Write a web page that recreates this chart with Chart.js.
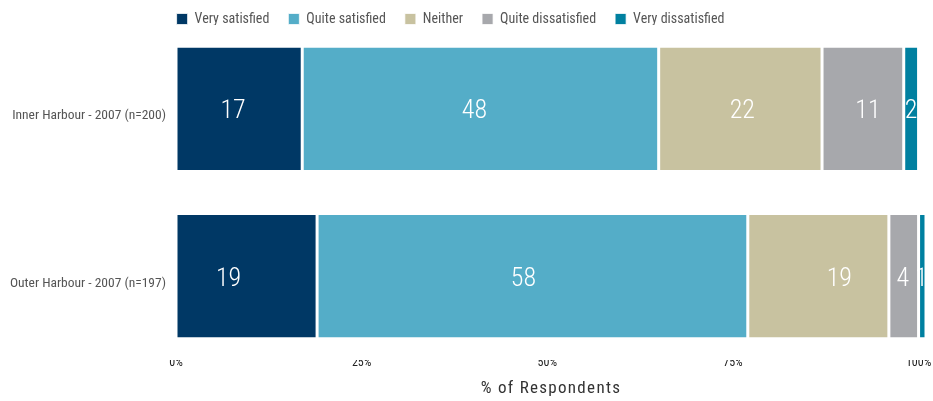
<!DOCTYPE html>
<html>
<head>
<meta charset="utf-8">
<script src="https://cdn.jsdelivr.net/npm/chart.js@4/dist/chart.umd.min.js"></script>
<style>
  html, body { margin: 0; padding: 0; background: #fff; }
  #wrap { width: 933px; height: 401px; }
</style>
</head>
<body>
<div id="wrap"><canvas id="satChart"></canvas></div>
<script>
const FONT = '"Roboto Condensed", "Roboto", sans-serif';

const groups = ['Inner Harbour - 2007 (n=200)', 'Outer Harbour - 2007 (n=197)'];
const levels = ['Very satisfied', 'Quite satisfied', 'Neither', 'Quite dissatisfied', 'Very dissatisfied'];
const verySatisfied = [17, 19];
const quiteSatisfied = [48, 58];
const neither = [22, 19];
const quiteDissatisfied = [11, 4];
const veryDissatisfied = [2, 1];
const xTicks = [0, 25, 50, 75, 100];

const colors = ['#003865', '#54adc8', '#c8c2a0', '#a7a8ac', '#0080a0'];
const series = [verySatisfied, quiteSatisfied, neither, quiteDissatisfied, veryDissatisfied];
// hand-tuned horizontal nudges (px) for the numbers, per level and group
const labelNudge = [[-6, -18], [-6, -9], [2, 21], [5, -1], [0, -1]];

// white numbers inside every segment
const valueLabels = {
  id: 'valueLabels',
  afterDatasetsDraw(chart) {
    const ctx = chart.ctx;
    ctx.save();
    ctx.font = '300 26px ' + FONT;
    ctx.fillStyle = '#ffffff';
    ctx.textAlign = 'center';
    ctx.textBaseline = 'middle';
    chart.data.datasets.forEach((ds, i) => {
      chart.getDatasetMeta(i).data.forEach((bar, j) => {
        const p = bar.getCenterPoint();
        ctx.fillText(ds.data[j], p.x + labelNudge[i][j], p.y + 3);
      });
    });
    ctx.restore();
  }
};

// thin legend sitting a bit left of centre, tracked-out axis title
const layoutTweaks = {
  id: 'layoutTweaks',
  afterInit(chart) {
    const lg = chart.legend;
    const fit = lg.fit;
    lg.fit = function () {
      fit.call(this);
      this.height = 25;
    };
  },
  afterLayout(chart) {
    const lg = chart.legend;
    const pad = lg.options.labels.padding;
    lg.left = 2 * 460 - pad - lg.right;
    lg.top = 19 - 7 - pad;

    const xs = chart.scales.x;
    if (!xs._spaced) {
      const drawTitle = xs.drawTitle;
      xs.drawTitle = function () {
        this.ctx.save();
        this.ctx.letterSpacing = '1.3px';
        drawTitle.apply(this, arguments);
        this.ctx.restore();
      };
      xs._spaced = true;
    }
  }
};

new Chart(document.getElementById('satChart'), {
  type: 'bar',
  data: {
    labels: groups,
    datasets: levels.map((name, i) => ({
      label: name,
      data: series[i],
      backgroundColor: colors[i],
      borderColor: '#ffffff',
      borderWidth: { left: 1.5, right: 1.5, top: 0, bottom: 0 },
      borderSkipped: false,
      categoryPercentage: 1,
      barPercentage: 0.73
    }))
  },
  options: {
    indexAxis: 'y',
    responsive: true,
    maintainAspectRatio: false,
    animation: false,
    layout: { padding: { right: 7 } },
    plugins: {
      legend: {
        position: 'top',
        labels: {
          boxWidth: 11,
          boxHeight: 11,
          padding: 19,
          color: '#555',
          font: { family: FONT, size: 14 }
        }
      },
      tooltip: { enabled: false }
    },
    scales: {
      x: {
        stacked: true,
        min: 0,
        max: 101,
        afterBuildTicks(scale) {
          scale.ticks = xTicks.map(v => ({ value: v }));
        },
        afterFit(scale) { scale.height = 41; },
        grid: { display: false, drawTicks: false },
        border: { display: false },
        ticks: {
          padding: -4,
          color: '#222',
          font: { family: FONT, size: 12 },
          maxRotation: 0,
          callback: v => v + '%'
        },
        title: {
          display: true,
          text: '% of Respondents',
          color: '#333',
          font: { family: FONT, size: 17 },
          padding: { top: 0, bottom: 2 }
        }
      },
      y: {
        stacked: true,
        afterFit(scale) { scale.width = 176; },
        grid: { display: false, drawTicks: false },
        border: { display: false },
        ticks: {
          padding: 10,
          labelOffset: 7,
          color: '#555',
          font: { family: FONT, size: 13.5 }
        }
      }
    }
  },
  plugins: [valueLabels, layoutTweaks]
});
</script>
</body>
</html>
